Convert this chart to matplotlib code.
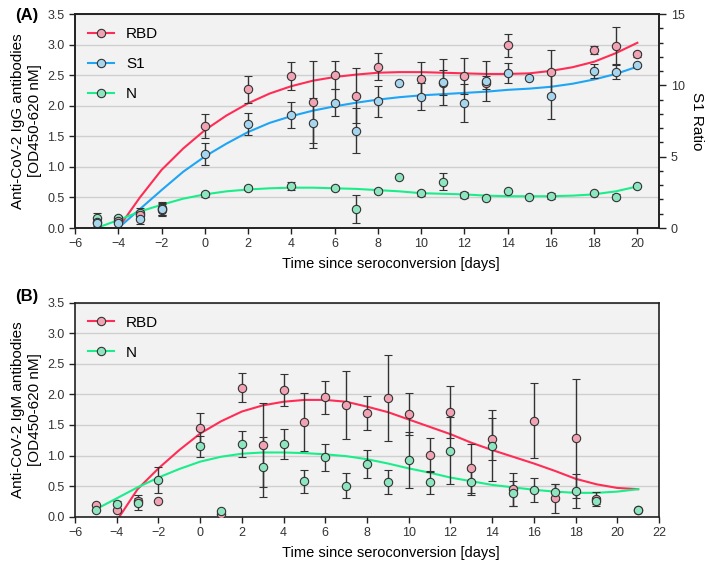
"""Anti-CoV-2 IgG / IgM antibody kinetics vs. time since seroconversion."""

import matplotlib
matplotlib.use("Agg")
import matplotlib.pyplot as plt
from matplotlib.lines import Line2D
from matplotlib.ticker import MultipleLocator, FormatStrFormatter

plt.rcParams["font.family"] = ["Liberation Sans", "DejaVu Sans"]

# ---- panel A (IgG) data points ----
rbd_a_x = [-5, -4, -3, -2, 0, 2, 4, 5, 6, 7, 8, 10, 11, 12, 13, 14, 16, 18, 19, 20]
rbd_a_y = [0.10, 0.12, 0.22, 0.30, 1.67, 2.27, 2.49, 2.06, 2.51, 2.16, 2.64, 2.44,
           2.38, 2.49, 2.38, 2.99, 2.55, 2.91, 2.98, 2.84]
rbd_a_err = [0, 0, 0.06, 0.10, 0.20, 0.22, 0.23, 0.67, 0.23, 0.45, 0.22, 0.27,
             0.20, 0.29, 0.10, 0.19, 0.36, 0.07, 0.30, 0.04]

s1_a_x = [-5, -4, -3, -2, 0, 2, 4, 5, 6, 7, 8, 9, 10, 11, 12, 13, 14, 15, 16, 18, 19, 20]
s1_a_y = [0.08, 0.09, 0.14, 0.31, 1.21, 1.70, 1.85, 1.72, 2.05, 1.59, 2.07, 2.37,
          2.15, 2.39, 2.05, 2.41, 2.54, 2.46, 2.16, 2.57, 2.55, 2.66]
s1_a_err = [0.04, 0.03, 0.07, 0.10, 0.18, 0.18, 0.21, 0.41, 0.22, 0.37, 0.25, 0,
            0.22, 0.38, 0.31, 0.33, 0.16, 0, 0.37, 0.12, 0.12, 0.03]

n_a_x = [-5, -4, -3, -2, 0, 2, 4, 6, 7, 8, 9, 10, 11, 12, 13, 14, 15, 16, 18, 19, 20]
n_a_y = [0.16, 0.16, 0.25, 0.32, 0.55, 0.65, 0.69, 0.65, 0.31, 0.61, 0.84, 0.57,
         0.76, 0.54, 0.49, 0.61, 0.51, 0.52, 0.58, 0.51, 0.69]
n_a_err = [0.08, 0.04, 0.07, 0.10, 0.04, 0.03, 0.07, 0.03, 0.23, 0.03, 0, 0.04,
           0.14, 0.05, 0, 0, 0, 0.05, 0, 0.04, 0]

# ---- panel A fitted curves ----
fit_a_x = list(range(-4, 21))
fit_rbd_a = [0, 0.50, 0.95, 1.30, 1.60, 1.84, 2.04, 2.20, 2.32, 2.41, 2.47, 2.51,
             2.54, 2.55, 2.55, 2.54, 2.53, 2.52, 2.52, 2.53, 2.57, 2.63, 2.72, 2.86,
             3.03]
fit_s1_a = [0, 0.31, 0.62, 0.92, 1.17, 1.38, 1.57, 1.72, 1.83, 1.92, 1.99, 2.05,
            2.10, 2.14, 2.17, 2.19, 2.21, 2.23, 2.26, 2.28, 2.31, 2.36, 2.43, 2.52,
            2.64]
fit_n_a_x = list(range(-5, 21))
fit_n_a = [0.0, 0.13, 0.27, 0.38, 0.48, 0.55, 0.60, 0.63, 0.65, 0.66, 0.66, 0.65,
           0.64, 0.62, 0.60, 0.57, 0.56, 0.55, 0.53, 0.52, 0.52, 0.52, 0.53, 0.55,
           0.60, 0.68]

# ---- panel B (IgM) data points ----
b_x = [-5, -4, -3, -2, 0, 1, 2, 3, 4, 5, 6, 7, 8, 9, 10, 11, 12, 13, 14, 15, 16,
       17, 18, 19, 21]
rbd_b_y = [0.19, 0.11, 0.25, 0.26, 1.45, 0.04, 2.11, 1.17, 2.07, 1.55, 1.95, 1.83,
           1.70, 1.94, 1.68, 1.01, 1.71, 0.79, 1.27, 0.45, 1.57, 0.30, 1.28, 0.29, 0.11]
rbd_b_err = [0, 0, 0.06, 0, 0.24, 0, 0.235, 0.69, 0.26, 0.47, 0.27, 0.56, 0.28,
             0.71, 0.34, 0.275, 0.425, 0.40, 0.35, 0.27, 0.61, 0.235, 0.97, 0.12, 0]
n_b_y = [0.11, 0.21, 0.23, 0.60, 1.15, 0.10, 1.19, 0.82, 1.19, 0.58, 0.97, 0.51,
         0.86, 0.57, 0.93, 0.56, 1.08, 0.56, 1.16, 0.38, 0.44, 0.41, 0.42, 0.26, 0.11]
n_b_err = [0, 0.04, 0.12, 0.21, 0.17, 0, 0.215, 0.49, 0.25, 0.19, 0.215, 0.21,
           0.225, 0.20, 0.455, 0.19, 0.55, 0.21, 0.58, 0.20, 0.20, 0.13, 0.27, 0.06, 0]

# ---- panel B fitted curves ----
fit_rbd_b_x = [-3.87] + list(range(-3, 22))
fit_rbd_b = [0, 0.45, 0.79, 1.09, 1.36, 1.56, 1.72, 1.82, 1.88, 1.91, 1.91, 1.88,
             1.80, 1.71, 1.59, 1.47, 1.35, 1.21, 1.09, 0.98, 0.87, 0.75, 0.62, 0.53,
             0.47, 0.45]
fit_n_b_x = list(range(-5, 22))
fit_n_b = [0.12, 0.30, 0.48, 0.64, 0.78, 0.90, 0.98, 1.03, 1.05, 1.05, 1.04, 1.02,
           0.99, 0.94, 0.87, 0.79, 0.72, 0.64, 0.58, 0.52, 0.48, 0.44, 0.41, 0.39,
           0.39, 0.41, 0.45]

RED, RED_FACE = "#ff2d55", "#f2a3b3"
BLUE, BLUE_FACE = "#1ea5f5", "#a6d5ee"
GREEN, GREEN_FACE = "#1aee8a", "#8de6bf"
EDGE = "#333333"


def style_axis(ax, xmax):
    ax.set_facecolor("#f2f2f2")
    ax.set_xlim(-6, xmax)
    ax.set_ylim(0, 3.5)
    ax.set_xticks(range(-6, int(xmax) + 1, 2))
    ax.yaxis.set_major_locator(MultipleLocator(0.5))
    ax.yaxis.set_major_formatter(FormatStrFormatter("%.1f"))
    ax.grid(axis="y", color="#cfcfcf", linewidth=1)
    ax.set_axisbelow(True)
    for s in ax.spines.values():
        s.set_color("#222222")
        s.set_linewidth(1.2)
    ax.tick_params(direction="out", length=4, width=1, labelsize=9,
                   colors="#222222", labelcolor="#333333")
    ax.set_xlabel("Time since seroconversion [days]", fontsize=10.5)
    ax.xaxis.set_label_coords(0.54, -0.135)


def points(ax, x, y, err, face):
    ax.errorbar(x, y, yerr=err, fmt="o", ms=6, mfc=face, mec=EDGE, mew=0.8,
                ecolor="#333333", elinewidth=1, capsize=3, capthick=1, zorder=3)


def legend(ax, entries):
    handles = [Line2D([0], [0], color=c, lw=1.5, marker="o", ms=6, mfc=f,
                      mec=EDGE, mew=0.8) for c, f, _ in entries]
    ax.legend(handles, [t for _, _, t in entries], loc="upper left",
              frameon=False, fontsize=11, labelspacing=1.05, handlelength=1.7,
              borderaxespad=0.25, borderpad=0.6, handletextpad=0.8)


fig = plt.figure(figsize=(7.09, 5.64), dpi=100)

# ---- panel A ----
ax1 = fig.add_axes([0.1058, 0.5957, 0.8237, 0.3794])
style_axis(ax1, 21)
ax1.plot(fit_a_x, fit_rbd_a, color=RED, lw=1.5, zorder=2)
ax1.plot(fit_a_x, fit_s1_a, color=BLUE, lw=1.5, zorder=2)
ax1.plot(fit_n_a_x, fit_n_a, color=GREEN, lw=1.5, zorder=2)
points(ax1, n_a_x, n_a_y, n_a_err, GREEN_FACE)
points(ax1, rbd_a_x, rbd_a_y, rbd_a_err, RED_FACE)
points(ax1, s1_a_x, s1_a_y, s1_a_err, BLUE_FACE)
ax1.set_ylabel("Anti-CoV-2 IgG antibodies\n[OD450-620 nM]", fontsize=11)
legend(ax1, [(RED, RED_FACE, "RBD"), (BLUE, BLUE_FACE, "S1"), (GREEN, GREEN_FACE, "N")])

ax1r = ax1.twinx()
ax1r.set_ylim(0, 15)
ax1r.yaxis.set_major_locator(MultipleLocator(5))
ax1r.yaxis.set_minor_locator(MultipleLocator(1))
ax1r.tick_params(which="both", direction="out", width=1, labelsize=9,
                 colors="#222222", labelcolor="#333333")
ax1r.tick_params(which="major", length=5)
ax1r.tick_params(which="minor", length=3)
for s in ax1r.spines.values():
    s.set_color("#222222")
    s.set_linewidth(1.2)
ax1r.set_ylabel("S1 Ratio", fontsize=11, rotation=270, labelpad=14)
fig.text(0.021, 0.973, "(A)", fontsize=12, fontweight="bold", va="center")

# ---- panel B ----
ax2 = fig.add_axes([0.1058, 0.0839, 0.8237, 0.3794])
style_axis(ax2, 22)
ax2.plot(fit_rbd_b_x, fit_rbd_b, color=RED, lw=1.5, zorder=2)
ax2.plot(fit_n_b_x, fit_n_b, color=GREEN, lw=1.5, zorder=2)
points(ax2, b_x, rbd_b_y, rbd_b_err, RED_FACE)
points(ax2, b_x, n_b_y, n_b_err, GREEN_FACE)
ax2.set_ylabel("Anti-CoV-2 IgM antibodies\n[OD450-620 nM]", fontsize=11)
legend(ax2, [(RED, RED_FACE, "RBD"), (GREEN, GREEN_FACE, "N")])
fig.text(0.021, 0.474, "(B)", fontsize=12, fontweight="bold", va="center")

fig.savefig("out.png", dpi=100)
